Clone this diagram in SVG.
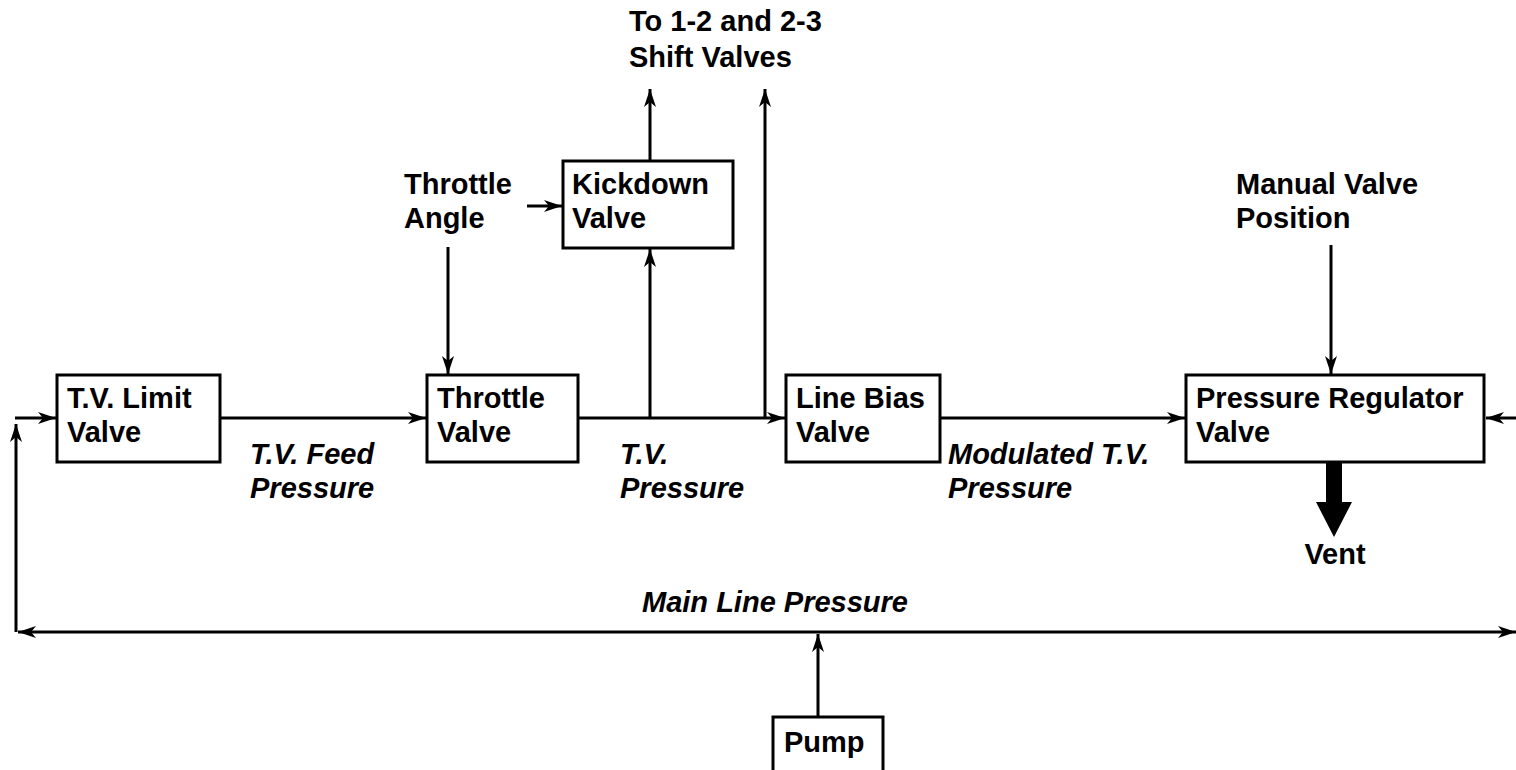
<svg xmlns="http://www.w3.org/2000/svg" width="1516" height="770" viewBox="0 0 1516 770">
<defs>
<marker id="ah" viewBox="0 0 18 12" refX="18" refY="6" markerWidth="18" markerHeight="12" markerUnits="userSpaceOnUse" orient="auto">
<path d="M0,0 L18,6 L0,12 L5,6 Z" fill="#000"/>
</marker>
<marker id="ahs" viewBox="0 0 18 12" refX="18" refY="6" markerWidth="18" markerHeight="12" markerUnits="userSpaceOnUse" orient="auto-start-reverse">
<path d="M0,0 L18,6 L0,12 L5,6 Z" fill="#000"/>
</marker>
<style>
.box{fill:#fff;stroke:#000;stroke-width:3}
.t{font-family:"Liberation Sans",Arial,sans-serif;font-weight:700;font-size:29px;fill:#000}
.i{font-family:"Liberation Sans",Arial,sans-serif;font-weight:700;font-style:italic;font-size:29px;fill:#000}
.ln{stroke:#000;stroke-width:3;fill:none}
</style>
</defs>
<rect width="1516" height="770" fill="#fff"/>
<g id="connectors">
<line class="ln" x1="220" y1="418" x2="426" y2="418" marker-end="url(#ah)"/>
<line class="ln" x1="578" y1="418" x2="785" y2="418" marker-end="url(#ah)"/>
<line class="ln" x1="940" y1="418" x2="1185" y2="418" marker-end="url(#ah)"/>
<line class="ln" x1="15" y1="418" x2="56" y2="418" marker-end="url(#ah)"/>
<line class="ln" x1="1516" y1="418" x2="1486" y2="418" marker-end="url(#ah)"/>
<line class="ln" x1="16" y1="632" x2="16" y2="424" marker-end="url(#ah)"/>
<line class="ln" x1="18" y1="632" x2="1516" y2="632" marker-start="url(#ahs)" marker-end="url(#ahs)"/>
<line class="ln" x1="818" y1="717" x2="818" y2="634" marker-end="url(#ah)"/>
<line class="ln" x1="650" y1="418" x2="650" y2="249" marker-end="url(#ah)"/>
<line class="ln" x1="650" y1="160" x2="650" y2="89" marker-end="url(#ah)"/>
<line class="ln" x1="765" y1="418" x2="765" y2="89" marker-end="url(#ah)"/>
<line class="ln" x1="527" y1="206" x2="562" y2="206" marker-end="url(#ah)"/>
<line class="ln" x1="448" y1="247" x2="448" y2="374" marker-end="url(#ah)"/>
<line class="ln" x1="1331" y1="245" x2="1331" y2="374" marker-end="url(#ah)"/>
<path d="M1326,452 L1342,452 L1342,502 L1352,502 L1334,537 L1316,502 L1326,502 Z" fill="#000"/>
</g>
<g id="tv-limit-valve">
<rect class="box" x="57" y="375" width="163" height="87"/>
<text class="t" x="67" y="408">T.V. Limit</text>
<text class="t" x="67" y="442">Valve</text>
</g>
<g id="throttle-valve">
<rect class="box" x="427" y="375" width="151" height="87"/>
<text class="t" x="437" y="408">Throttle</text>
<text class="t" x="437" y="442">Valve</text>
</g>
<g id="line-bias-valve">
<rect class="box" x="786" y="375" width="154" height="87"/>
<text class="t" x="796" y="408">Line Bias</text>
<text class="t" x="796" y="442">Valve</text>
</g>
<g id="pressure-regulator-valve">
<rect class="box" x="1186" y="375" width="298" height="87"/>
<text class="t" x="1196" y="408">Pressure Regulator</text>
<text class="t" x="1196" y="442">Valve</text>
</g>
<g id="kickdown-valve">
<rect class="box" x="563" y="161" width="170" height="87"/>
<text class="t" x="572" y="194">Kickdown</text>
<text class="t" x="572" y="228">Valve</text>
</g>
<g id="pump">
<rect class="box" x="773" y="717" width="110" height="60"/>
<text class="t" x="784" y="752">Pump</text>
</g>
<g id="labels">
<text class="t" x="629" y="31">To 1-2 and 2-3</text>
<text class="t" x="629" y="67">Shift Valves</text>
<text class="t" x="404" y="194">Throttle</text>
<text class="t" x="404" y="228">Angle</text>
<text class="t" x="1236" y="194">Manual Valve</text>
<text class="t" x="1236" y="228">Position</text>
<text class="t" x="1335" y="564" text-anchor="middle">Vent</text>
<text class="i" x="250" y="464">T.V. Feed</text>
<text class="i" x="250" y="498">Pressure</text>
<text class="i" x="620" y="464">T.V.</text>
<text class="i" x="620" y="498">Pressure</text>
<text class="i" x="948" y="464">Modulated T.V.</text>
<text class="i" x="948" y="498">Pressure</text>
<text class="i" x="775" y="612" text-anchor="middle">Main Line Pressure</text>
</g>
</svg>
